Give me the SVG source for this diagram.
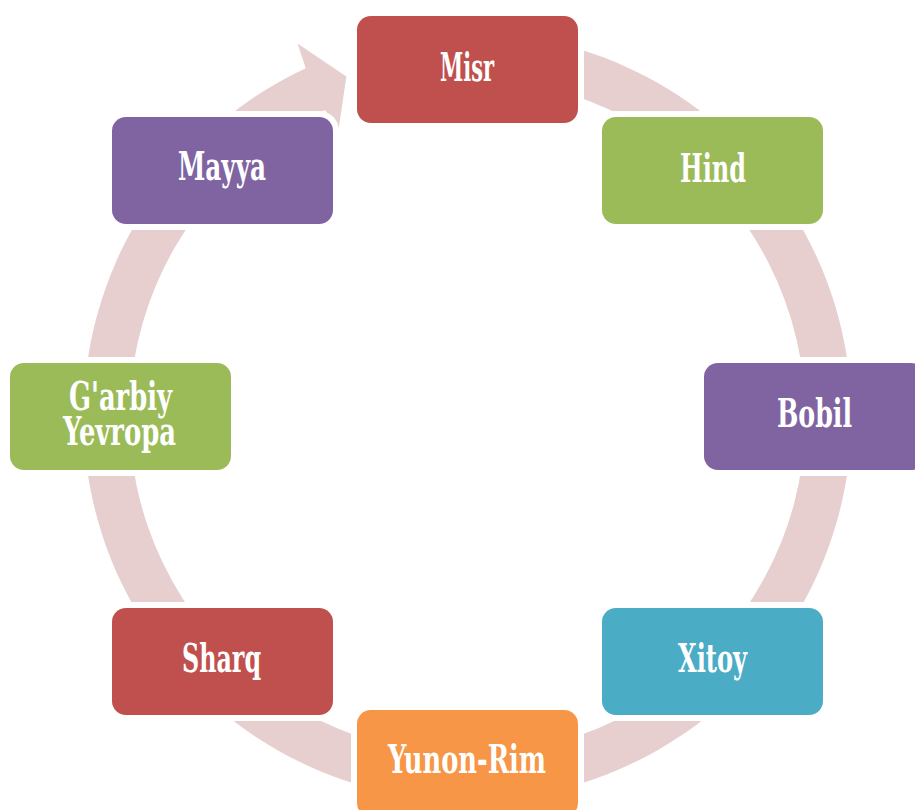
<svg xmlns="http://www.w3.org/2000/svg" width="915" height="810" viewBox="0 0 915 810">
  <style>
    .node rect { stroke: #ffffff; stroke-width: 12; paint-order: stroke fill; }
    .lbl { font-family: "DejaVu Serif", "Liberation Serif", serif; font-weight: bold; font-stretch: condensed; font-size: 39px; fill: #ffffff; text-anchor: middle; }
    .ring { fill: #E7CFD0; stroke: none; }
  </style>
  <rect x="0" y="0" width="915" height="810" fill="#ffffff"/>
  <g id="connectors">
    <path class="ring" d="M 467.5,32.5 A 384 384 0 1 1 305.8,68.2 L 297.5,43.4 L 346.4,76.4 L 338.1,132.6 L 325.2,109.9 A 338 338 0 1 0 467.5,78.5 Z"/>
  </g>
  <g id="misr" class="node">
    <rect x="357" y="16" width="221" height="107" rx="14" fill="#C0504D"/>
    <text class="lbl" x="467" y="81" textLength="54" lengthAdjust="spacingAndGlyphs">Misr</text>
  </g>
  <g id="hind" class="node">
    <rect x="602" y="117" width="221" height="107" rx="14" fill="#9BBB59"/>
    <text class="lbl" x="713" y="182" textLength="66" lengthAdjust="spacingAndGlyphs">Hind</text>
  </g>
  <g id="bobil" class="node">
    <rect x="704" y="363" width="221" height="107" rx="14" fill="#8064A2"/>
    <text class="lbl" x="814.5" y="427" textLength="75" lengthAdjust="spacingAndGlyphs">Bobil</text>
  </g>
  <g id="xitoy" class="node">
    <rect x="602" y="608" width="221" height="107" rx="14" fill="#4BACC6"/>
    <text class="lbl" x="712.5" y="672" textLength="69" lengthAdjust="spacingAndGlyphs">Xitoy</text>
  </g>
  <g id="yunon-rim" class="node">
    <rect x="357" y="710" width="221" height="107" rx="14" fill="#F79646"/>
    <text class="lbl" x="467" y="773" textLength="158" lengthAdjust="spacingAndGlyphs">Yunon-Rim</text>
  </g>
  <g id="sharq" class="node">
    <rect x="112" y="608" width="221" height="107" rx="14" fill="#C0504D"/>
    <text class="lbl" x="221.5" y="672" textLength="79" lengthAdjust="spacingAndGlyphs">Sharq</text>
  </g>
  <g id="garbiy-yevropa" class="node">
    <rect x="10" y="363" width="221" height="107" rx="14" fill="#9BBB59"/>
    <text class="lbl" x="120.5" y="410" textLength="103" lengthAdjust="spacingAndGlyphs">G'arbiy</text>
    <text class="lbl" x="119.5" y="445" textLength="113" lengthAdjust="spacingAndGlyphs">Yevropa</text>
  </g>
  <g id="mayya" class="node">
    <rect x="112" y="117" width="221" height="107" rx="14" fill="#8064A2"/>
    <text class="lbl" x="222" y="180" textLength="88" lengthAdjust="spacingAndGlyphs">Mayya</text>
  </g>
</svg>
